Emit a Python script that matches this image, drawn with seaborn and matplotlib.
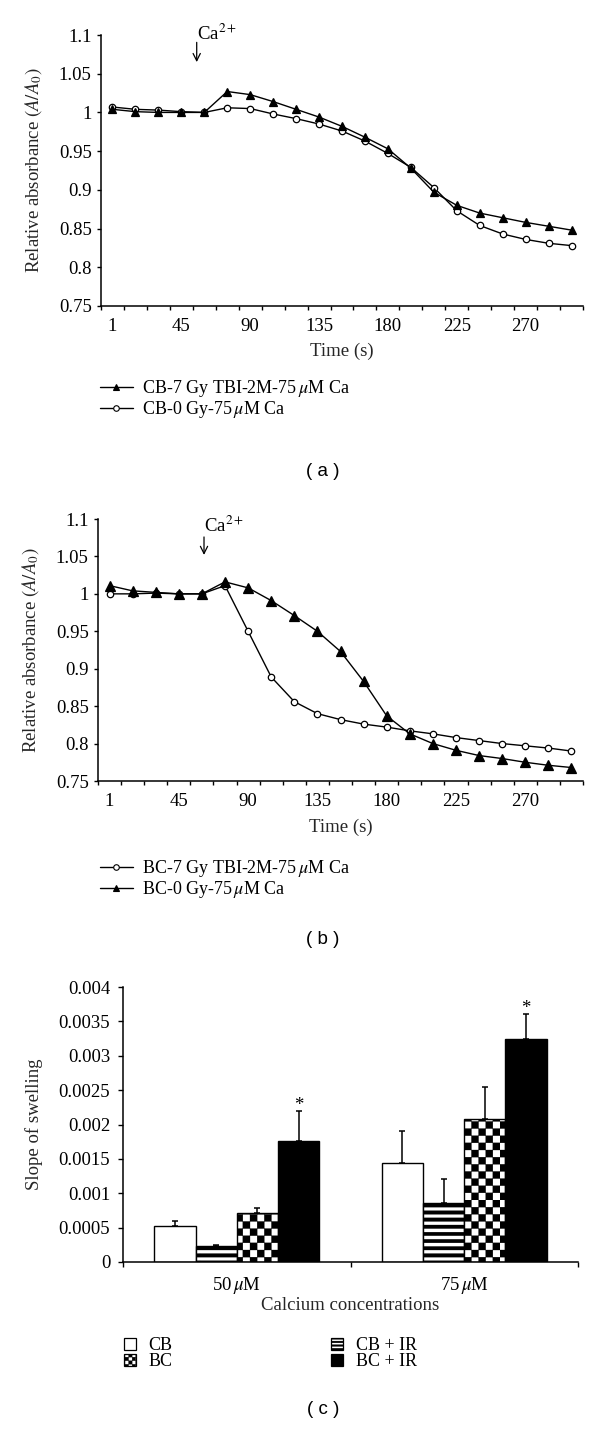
import numpy as np
import pandas as pd
import matplotlib
matplotlib.use("Agg")
import matplotlib.pyplot as plt
import matplotlib.hatch as mhatch
from matplotlib.path import Path
from matplotlib.lines import Line2D
from matplotlib.patches import Patch
from matplotlib.ticker import FuncFormatter
import seaborn as sns

# ---------------- data ----------------
times = [1, 15, 30, 45, 60, 75, 90, 105, 120, 135, 150, 165, 180, 195, 210,
         225, 240, 255, 270, 285, 300]
time_labels = [1, 45, 90, 135, 180, 225, 270]

# panel (a)
label_a1 = r"CB-7 Gy TBI-2M-75$\,\mu$M Ca"
label_a2 = r"CB-0 Gy-75$\,\mu$M Ca"
cb_7gy = [1.004, 1.001, 1.000, 1.000, 1.000, 1.027, 1.023, 1.014, 1.004, 0.994,
          0.982, 0.968, 0.953, 0.928, 0.897, 0.880, 0.870, 0.864, 0.858, 0.853, 0.848]
cb_0gy = [1.007, 1.004, 1.003, 1.001, 1.000, 1.006, 1.005, 0.998, 0.992, 0.985,
          0.976, 0.963, 0.947, 0.929, 0.903, 0.873, 0.854, 0.843, 0.836, 0.831, 0.828]

# panel (b)
label_b1 = r"BC-7 Gy TBI-2M-75$\,\mu$M Ca"
label_b2 = r"BC-0 Gy-75$\,\mu$M Ca"
bc_7gy = [1.000, 1.000, 1.001, 1.000, 1.000, 1.011, 0.950, 0.889, 0.856, 0.840,
          0.832, 0.826, 0.822, 0.817, 0.813, 0.808, 0.804, 0.800, 0.797, 0.794, 0.790]
bc_0gy = [1.011, 1.004, 1.002, 1.000, 1.000, 1.016, 1.008, 0.991, 0.971, 0.950,
          0.923, 0.883, 0.837, 0.813, 0.800, 0.791, 0.784, 0.780, 0.775, 0.771, 0.768]

abs_ticks = [0.75, 0.8, 0.85, 0.9, 0.95, 1.0, 1.05, 1.1]

# panel (c)
concs = [r"50$\,\mu$M", r"75$\,\mu$M"]
groups = ["CB", "CB + IR", "BC", "BC + IR"]
slope_50 = [0.00053, 0.00024, 0.00071, 0.00176]
slope_75 = [0.00144, 0.00086, 0.00208, 0.00324]
err_50 = [0.00006, 0.00001, 0.00007, 0.00044]
err_75 = [0.00046, 0.00035, 0.00046, 0.00037]
significant = ["BC + IR"]
slope_ticks = [0, 0.0005, 0.001, 0.0015, 0.002, 0.0025, 0.003, 0.0035, 0.004]


# ------------- custom fill patterns (checkerboard / thick bands) -------------
_SQ_CODES = [Path.MOVETO, Path.LINETO, Path.LINETO, Path.LINETO, Path.CLOSEPOLY]


class CheckerHatch(mhatch.HatchPatternBase):
    """Filled checkerboard, selected by the 'O' hatch character."""

    def __init__(self, hatch, density):
        self.n = hatch.count("O") * 14
        self.cells = [(i, j) for i in range(self.n) for j in range(self.n)
                      if (i + j) % 2 == 0]
        self.num_vertices = 5 * len(self.cells)

    def set_vertices_and_codes(self, vertices, codes):
        s = 1.0 / self.n
        sq = np.array([[0, 0], [1, 0], [1, 1], [0, 1], [0, 0]], float) * s
        for k, (i, j) in enumerate(self.cells):
            vertices[5 * k:5 * k + 5] = sq + [i * s, j * s]
            codes[5 * k:5 * k + 5] = _SQ_CODES


class BandHatch(mhatch.HatchPatternBase):
    """Thick filled horizontal bands, selected by the 'o' hatch character."""

    def __init__(self, hatch, density):
        self.n = hatch.count("o") * 14
        self.num_vertices = 5 * self.n

    def set_vertices_and_codes(self, vertices, codes):
        s = 1.0 / self.n
        for j in range(self.n):
            y0 = j * s
            vertices[5 * j:5 * j + 5] = [[0, y0], [1, y0], [1, y0 + s / 2],
                                         [0, y0 + s / 2], [0, y0]]
            codes[5 * j:5 * j + 5] = _SQ_CODES


mhatch._hatch_types = [t for t in mhatch._hatch_types
                       if t not in (mhatch.SmallCircles, mhatch.LargeCircles)] \
    + [CheckerHatch, BandHatch]

# ---------------- style ----------------
sns.set_style("ticks")
plt.rcParams["font.family"] = ["Liberation Serif", "DejaVu Serif"]
plt.rcParams["mathtext.fontset"] = "stix"
plt.rcParams["hatch.linewidth"] = 0.2
plt.rcParams["axes.linewidth"] = 1.1
plt.rcParams["axes.edgecolor"] = "black"
plt.rcParams["text.color"] = "black"
plt.rcParams["xtick.color"] = "black"
plt.rcParams["ytick.color"] = "black"

FS = 13.5
W, H = 600, 1446
fig = plt.figure(figsize=(W / 100, H / 100), dpi=100)


def fig_rect(left, top, right, bottom):
    return [left / W, 1 - bottom / H, (right - left) / W, (bottom - top) / H]


ax_a = fig.add_axes(fig_rect(101, 35, 583, 306))
ax_b = fig.add_axes(fig_rect(98, 519, 583, 781))
ax_c = fig.add_axes(fig_rect(123, 987, 578, 1262))

gfmt = FuncFormatter(lambda v, p: "%g" % round(v, 6))


def line_panel(ax, s1, s2, lab1, lab2, mk1, mk2, ms_tri, arrow_x, arrow_y, text_y,
               leg_top, xl_y):
    df = pd.DataFrame({
        "time": times * 2,
        "absorbance": s1 + s2,
        "series": [lab1] * len(times) + [lab2] * len(times),
    })
    sns.pointplot(data=df, x="time", y="absorbance", hue="series",
                  hue_order=[lab1, lab2], markers=[mk1, mk2],
                  linestyles=["-", "-"], palette=["black", "black"],
                  errorbar=None, linewidth=1.0, legend=False, ax=ax)
    for ln in ax.lines:
        ln.set_markeredgewidth(0.9)
        ln.set_linewidth(1.0)
        ln.set_color("black")
        ln.set_markeredgecolor("black")
        if ln.get_marker() == "o":
            ln.set_markerfacecolor("white")
            ln.set_markersize(4.6)
            ln.set_zorder(3)
        else:
            ln.set_markerfacecolor("black")
            ln.set_markersize(ms_tri)
            ln.set_zorder(4)
    n = len(times)
    ax.set_xlim(-0.5, n - 0.5)
    ax.set_ylim(0.75, 1.1)
    ax.set_yticks(abs_ticks)
    ax.yaxis.set_major_formatter(gfmt)
    ax.set_xticks(np.arange(-0.5, n, 1.0))
    ax.set_xticklabels([])
    ax.set_xticks([times.index(t) for t in time_labels],
                  [str(t) for t in time_labels], minor=True)
    ax.tick_params(axis="x", which="major", direction="out", length=3.2,
                   width=1.0)
    ax.tick_params(axis="x", which="minor", length=0, pad=8.5, labelsize=FS)
    ax.tick_params(axis="y", which="major", direction="out", length=3.2,
                   width=1.0, pad=3.5, labelsize=FS)
    sns.despine(ax=ax)
    ax.set_xlabel("Time (s)", fontsize=FS)
    ax.xaxis.set_label_coords(0.5, xl_y)
    ax.set_ylabel(r"Relative absorbance $(A/A_0)$", fontsize=FS)
    ax.yaxis.set_label_coords(-0.118, 0.5)
    # Ca2+ addition marker
    ax.annotate("", xy=(arrow_x, arrow_y[1]), xytext=(arrow_x, arrow_y[0]),
                arrowprops=dict(arrowstyle="->", lw=0.9, color="black",
                                shrinkA=0, shrinkB=0, mutation_scale=13))
    ax.text(arrow_x, text_y, r"Ca$^{2+}$", ha="left", va="baseline",
            fontsize=FS)
    # legend
    def handle(mk, ms):
        return Line2D([0], [0], color="black", lw=1.0, marker=mk,
                      markersize=ms, markeredgewidth=0.8,
                      markerfacecolor="white" if mk == "o" else "black",
                      markeredgecolor="black")
    handles = [handle(mk1, 4.0 if mk1 == "o" else 5.0),
               handle(mk2, 4.0 if mk2 == "o" else 5.0)]
    ax.legend(handles, [lab1, lab2], loc="upper left",
              bbox_to_anchor=(100 / W, 1 - leg_top / H),
              bbox_transform=fig.transFigure, frameon=False, borderpad=0,
              borderaxespad=0, handlelength=1.8, handletextpad=0.55,
              labelspacing=0.0, fontsize=13)


line_panel(ax_a, cb_7gy, cb_0gy, label_a1, label_a2, "^", "o", 6.3,
           3.67, (1.0905, 1.065), 1.093, 378, -0.136)
line_panel(ax_b, bc_7gy, bc_0gy, label_b1, label_b2, "o", "^", 6.9,
           4.09, (1.076, 1.052), 1.083, 858, -0.143)

# ---------------- panel (c) ----------------
df_c = pd.DataFrame({
    "conc": [concs[0]] * 4 + [concs[1]] * 4,
    "group": groups * 2,
    "slope": slope_50 + slope_75,
    "err": err_50 + err_75,
})
fills = {"CB": "white", "CB + IR": "white", "BC": "white", "BC + IR": "black"}
hatches = {"CB": "", "CB + IR": "o", "BC": "O", "BC + IR": ""}
leg_hatches = {"CB": "", "CB + IR": "oo", "BC": "OO", "BC + IR": ""}

sns.barplot(data=df_c, x="conc", y="slope", hue="group", order=concs,
            hue_order=groups, palette=fills, saturation=1, width=0.725,
            errorbar=None, edgecolor="black", linewidth=1.0, legend=False,
            ax=ax_c)
for cont, g in zip(ax_c.containers, groups):
    sub = df_c[df_c["group"] == g].set_index("conc")
    for bar, c in zip(cont, concs):
        bar.set_hatch(hatches[g])
        xc = bar.get_x() + bar.get_width() / 2
        top = bar.get_height()
        err = sub.loc[c, "err"]
        ax_c.errorbar([xc], [top], yerr=[[0], [err]], fmt="none",
                      ecolor="black", elinewidth=1.1, capsize=2.2,
                      capthick=1.1, zorder=1.5)
        if g in significant:
            ax_c.annotate("*", (xc, top + err), xytext=(0, 0.5),
                          textcoords="offset points", ha="center",
                          va="baseline", fontsize=FS)

ax_c.set_xlim(-0.5, 1.5)
ax_c.set_ylim(0, 0.004)
ax_c.set_yticks(slope_ticks)
ax_c.yaxis.set_major_formatter(gfmt)
ax_c.set_xticks([-0.5, 0.5, 1.5])
ax_c.set_xticklabels([])
ax_c.set_xticks([0, 1], concs, minor=True)
ax_c.tick_params(axis="x", which="major", direction="out", length=3.6,
                 width=1.0)
ax_c.tick_params(axis="x", which="minor", length=0, pad=9, labelsize=FS)
ax_c.tick_params(axis="y", which="major", direction="out", length=3.6,
                 width=1.0, pad=5.5, labelsize=FS)
sns.despine(ax=ax_c)
ax_c.set_xlabel("Calcium concentrations", fontsize=FS)
ax_c.xaxis.set_label_coords(0.5, -0.128)
ax_c.set_ylabel("Slope of swelling", fontsize=FS)
ax_c.yaxis.set_label_coords(-0.176, 0.5)

leg_order = ["CB", "BC", "CB + IR", "BC + IR"]
leg_handles = [Patch(facecolor=fills[g], edgecolor="black",
                     hatch=leg_hatches[g], linewidth=0.9) for g in leg_order]
ax_c.legend(leg_handles, leg_order, loc="upper left", ncol=2,
            bbox_to_anchor=(124 / W, 1 - 1337 / H),
            bbox_transform=fig.transFigure, frameon=False, borderpad=0,
            borderaxespad=0, handlelength=0.65, handleheight=0.65,
            handletextpad=0.7, columnspacing=8.8, labelspacing=-0.05,
            fontsize=13)

# ---------------- panel captions ----------------
for lab, y in [("( a )", 472), ("( b )", 940), ("( c )", 1410)]:
    fig.text(323 / W, 1 - y / H, lab, ha="center", va="center",
             fontsize=13.5, family=["Liberation Sans", "DejaVu Sans"])

fig.savefig("out.png", dpi=100, facecolor="white")
